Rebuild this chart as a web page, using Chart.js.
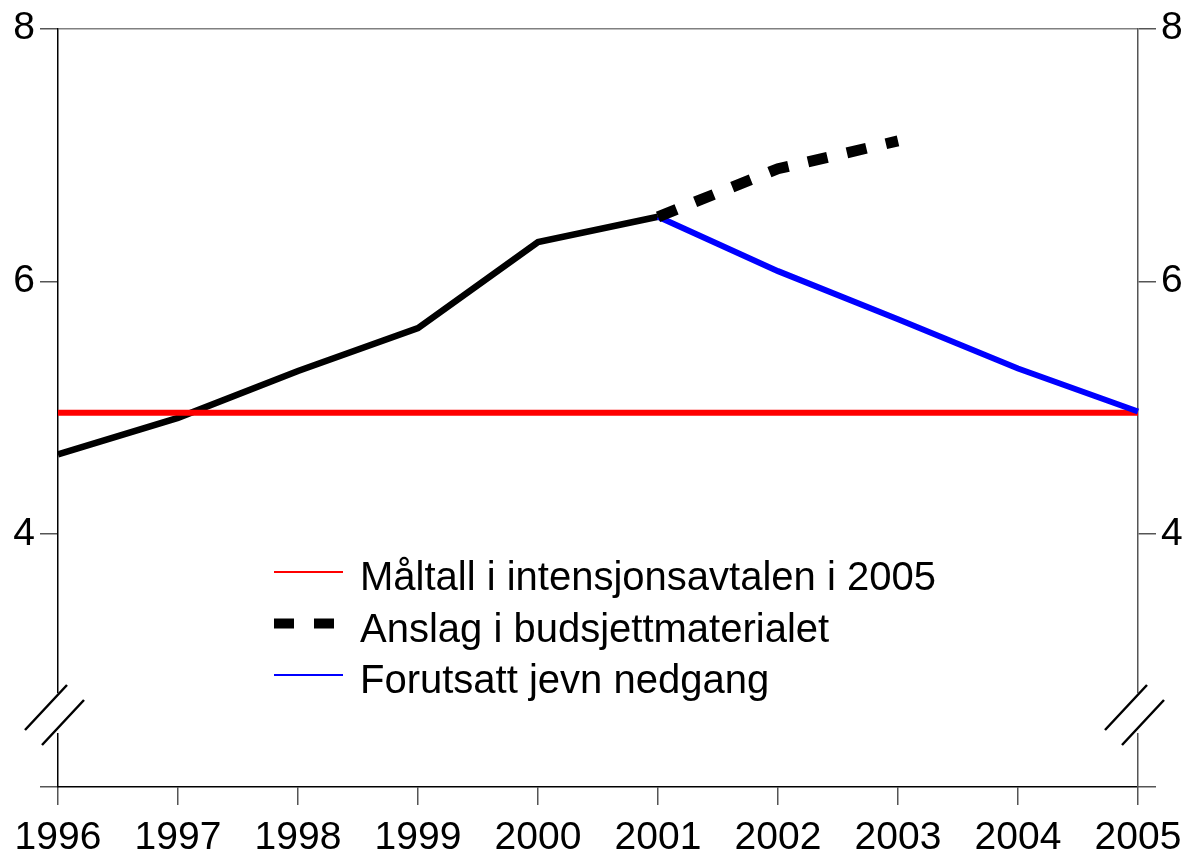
<!DOCTYPE html>
<html>
<head>
<meta charset="utf-8">
<script src="https://cdn.jsdelivr.net/npm/chart.js@4"></script>
<style>
  html, body { margin: 0; padding: 0; background: #fff; }
  #wrap { width: 1188px; height: 856px; }
</style>
</head>
<body>
<div id="wrap"><canvas id="chart"></canvas></div>
<script>
const years = ["1996", "1997", "1998", "1999", "2000", "2001", "2002", "2003", "2004", "2005"];
const historikk = [4.63, 4.92, 5.29, 5.63, 6.31, 6.51, null, null, null, null];
const maltall = [4.96, 4.96, 4.96, 4.96, 4.96, 4.96, 4.96, 4.96, 4.96, 4.96];
const anslag = [null, null, null, null, null, 6.51, 6.89, 7.11, null, null];
const nedgang = [null, null, null, null, null, 6.51, 6.08, 5.70, 5.31, 4.97];
const yTicks = [2, 4, 6, 8];
const yLabels = ["", "4", "6", "8"];

const FONT = "'Liberation Sans', Arial, sans-serif";

// bruddtegn på aksene + egen forklaring
const extras = {
  id: "extras",
  afterDraw(chart) {
    const ctx = chart.ctx;
    const area = chart.chartArea;
    ctx.save();
    [area.left, area.right].forEach((x) => {
      const y1 = area.bottom - 94, y2 = area.bottom - 54;
      ctx.fillStyle = "#fff";
      ctx.fillRect(x - 2, y1, 4, y2 - y1);
      ctx.strokeStyle = "#000";
      ctx.lineWidth = 2.5;
      ctx.beginPath();
      ctx.moveTo(x - 33, area.bottom - 57);
      ctx.lineTo(x + 9, area.bottom - 102);
      ctx.moveTo(x - 16, area.bottom - 42);
      ctx.lineTo(x + 26, area.bottom - 87);
      ctx.stroke();
    });

    const items = [
      { text: "Måltall i intensjonsavtalen i 2005", color: "#ff0000", width: 2, dash: [], end: 343 },
      { text: "Anslag i budsjettmaterialet", color: "#000", width: 10, dash: [20, 20], end: 334 },
      { text: "Forutsatt jevn nedgang", color: "#0000ff", width: 2, dash: [], end: 343 },
    ];
    ctx.font = "40px " + FONT;
    ctx.textBaseline = "middle";
    ctx.textAlign = "left";
    items.forEach((it, i) => {
      const y = 572 + i * 51.5;
      ctx.strokeStyle = it.color;
      ctx.lineWidth = it.width;
      ctx.setLineDash(it.dash);
      ctx.lineCap = "butt";
      ctx.beginPath();
      ctx.moveTo(274, y);
      ctx.lineTo(it.end, y);
      ctx.stroke();
      ctx.setLineDash([]);
      ctx.fillStyle = "#000";
      ctx.fillText(it.text, 360, y + 7);
    });
    ctx.restore();
  },
};

const yAxis = (position, width) => ({
  type: "linear",
  position: position,
  min: 2,
  max: 8,
  afterBuildTicks(axis) {
    axis.ticks = yTicks.map((v) => ({ value: v }));
  },
  afterFit(axis) {
    axis.width = width;
  },
  ticks: {
    color: "#000",
    font: { family: FONT, size: 39 },
    padding: 5,
    callback: (v) => yLabels[yTicks.indexOf(v)],
  },
  grid: {
    drawOnChartArea: position === "left",
    color: (c) => (c.tick && c.tick.value === 8 ? "#808080" : "rgba(0,0,0,0)"),
    tickColor: "#555",
    tickLength: 18,
    lineWidth: 1.5,
  },
  border: { color: position === "left" ? "#000" : "#555", width: 1.5 },
});

new Chart(document.getElementById("chart"), {
  type: "line",
  data: {
    labels: years,
    datasets: [
      {
        label: "Historikk",
        data: historikk,
        borderColor: "#000",
        borderWidth: 6.5,
        pointRadius: 0,
        order: 4,
        yAxisID: "y",
      },
      {
        label: "Måltall i intensjonsavtalen i 2005",
        data: maltall,
        borderColor: "#ff0000",
        borderWidth: 6,
        pointRadius: 0,
        order: 3,
        yAxisID: "y",
      },
      {
        label: "Forutsatt jevn nedgang",
        data: nedgang,
        borderColor: "#0000ff",
        borderWidth: 6,
        pointRadius: 0,
        order: 2,
        yAxisID: "y",
      },
      {
        label: "Anslag i budsjettmaterialet",
        data: anslag,
        borderColor: "#000",
        borderWidth: 11,
        borderDash: [20, 20],
        borderCapStyle: "butt",
        pointRadius: 0,
        order: 1,
        yAxisID: "y",
      },
    ],
  },
  options: {
    responsive: true,
    maintainAspectRatio: false,
    animation: false,
    layout: { padding: { top: 27, right: 0, bottom: 0, left: 0 } },
    plugins: {
      legend: { display: false },
      tooltip: { enabled: false },
    },
    scales: {
      x: {
        offset: false,
        afterFit(axis) {
          axis.height = 69;
          axis.paddingLeft = 0;
          axis.paddingRight = 0;
        },
        ticks: {
          color: "#000",
          font: { family: FONT, size: 39 },
          padding: 10,
          maxRotation: 0,
          autoSkip: false,
        },
        grid: {
          drawOnChartArea: false,
          tickColor: "#555",
          tickLength: 18,
          lineWidth: 1.5,
        },
        border: { color: "#000", width: 1.5 },
      },
      y: yAxis("left", 58),
      y2: yAxis("right", 50),
    },
  },
  plugins: [extras],
});
</script>
</body>
</html>
